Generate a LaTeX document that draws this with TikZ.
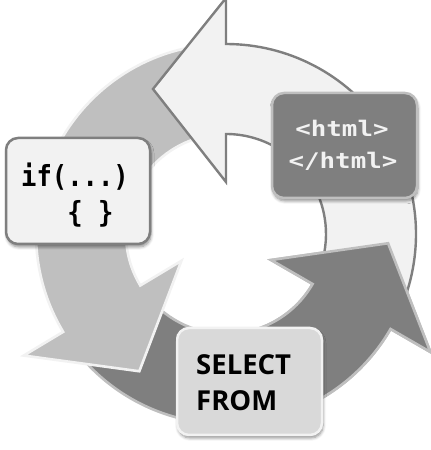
\documentclass[tikz,border=0pt]{standalone}
\usepackage{fontspec}
\usetikzlibrary{calc,shadows.blur}
\newfontfamily\iffont{DejaVu Sans Mono}[FakeStretch=0.88]
\newfontfamily\htmlfont{DejaVu Sans Mono}[FakeStretch=1.2]
\newfontfamily\sqlfont{Open Sans}
\definecolor{cLight}{HTML}{F2F2F2}
\definecolor{cMid}{HTML}{BFBFBF}
\definecolor{cDark}{HTML}{7F7F7F}
\definecolor{cCard}{HTML}{D9D9D9}
\newcommand\cyclearrow[3]{%
  \path[#1] ($(C)+(#2:190pt)$) arc[start angle=#2, end angle=#3, radius=190pt]
    -- ($(C)+(#3:236pt)$) -- ($(C)+(#3:145pt)+(#3+90:73pt)$)
    -- ($(C)+(#3:52pt)$) -- ($(C)+(#3:100pt)$)
    arc[start angle=#3, end angle=#2, radius=100pt] -- cycle;}
\tikzset{
  arrowL/.style={fill=cLight, draw=cDark, line width=2.4pt},
  arrowM/.style={fill=cMid, draw=cLight, line width=2.6pt},
  arrowD/.style={fill=cDark, draw=cMid, line width=2.6pt},
  card/.style={rectangle, rounded corners=12pt, line width=2.5pt, inner sep=0pt,
    blur shadow={shadow xshift=1pt, shadow yshift=-3pt, shadow blur steps=6,
      shadow blur radius=3pt, shadow opacity=45}},
  iftxt/.style={inner sep=0pt, anchor=base west, font={\iffont\bfseries\fontsize{29pt}{30pt}\selectfont}},
  htmltxt/.style={inner sep=0pt, anchor=base, text=cLight, font={\htmlfont\bfseries\fontsize{21.5pt}{22pt}\selectfont}},
  sqltxt/.style={inner sep=0pt, anchor=base west, font={\sqlfont\bfseries\fontsize{27.5pt}{28pt}\selectfont}},
}
\begin{document}
\begin{tikzpicture}[x=1pt,y=1pt]
\useasboundingbox (0,0) rectangle (431,450);
\coordinate (C) at (226,216);
% the three cycle arrows (dark, medium, light), then the dark head again on top
\cyclearrow{arrowD}{215}{330}
\cyclearrow{arrowM}{95}{211}
\cyclearrow{arrowL}{-25}{90}
\begin{scope}
  \clip ($(C)+(30pt,2pt)$) rectangle ($(C)+(262pt,-222pt)$);
  \cyclearrow{arrowD}{215}{330}
\end{scope}
% cards
\node[card, fill=cLight, draw=cDark, minimum width=144pt, minimum height=106pt] (ifbox) at (78,259) {};
\node[card, fill=cDark, draw=cMid, minimum width=145pt, minimum height=105pt] (htmlbox) at (344.5,304.5) {};
\node[card, fill=cCard, draw=cLight, minimum width=145pt, minimum height=107pt] (sqlbox) at (249.5,68.5) {};
% texts
\node[iftxt] (if1) at (21,263) {if(...)};
\node[iftxt] (if2) at (21,227) {\phantom{iii}\{\phantom{i}\}};
\node[htmltxt] (html1) at (342,313) {<html>};
\node[htmltxt] (html2) at (343,281) {</html>};
\node[sqltxt] (sql1) at (196,75) {SELECT};
\node[sqltxt] (sql2) at (196,39) {FROM};
\end{tikzpicture}
\end{document}
